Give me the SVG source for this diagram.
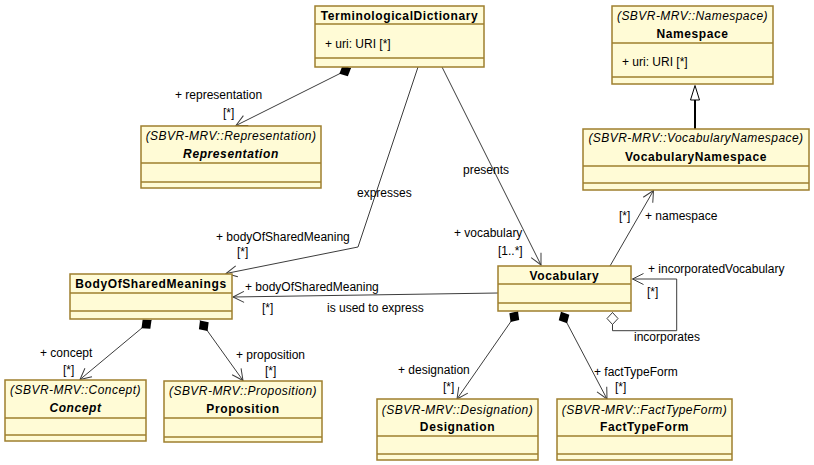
<svg xmlns="http://www.w3.org/2000/svg" width="814" height="465" viewBox="0 0 814 465">
<style>
.box{fill:#FFFBD6;stroke:#9E7F2E;stroke-width:1.5}
.div{stroke:#9E7F2E;stroke-width:1.5}
.name{font-family:"Liberation Sans",Arial,sans-serif;font-size:12px;font-weight:bold;letter-spacing:0.6px;text-anchor:middle;fill:#000}
.abs{font-style:italic}
.st{font-family:"Liberation Sans",Arial,sans-serif;font-size:12px;font-style:italic;letter-spacing:0.45px;text-anchor:middle;fill:#000}
.attr{font-family:"Liberation Sans",Arial,sans-serif;font-size:12px;fill:#000}
.lbl{font-family:"Liberation Sans",Arial,sans-serif;font-size:12px;fill:#000}
.con{fill:none;stroke:#3C3C3C;stroke-width:1}
</style>
<defs>
<marker id="open" markerUnits="userSpaceOnUse" viewBox="-12 -7 14 14" markerWidth="14" markerHeight="14" refX="0" refY="0" orient="auto">
<path d="M-11,-5.5 L0,0 L-11,5.5" fill="none" stroke="#3C3C3C" stroke-width="1"/>
</marker>
<marker id="comp" markerUnits="userSpaceOnUse" viewBox="-1 -8 16 16" markerWidth="16" markerHeight="16" refX="0" refY="0" orient="auto">
<path d="M0,0 L6.5,-6 L13,0 L6.5,6 Z" fill="#000"/>
</marker>
<marker id="agg" markerUnits="userSpaceOnUse" viewBox="-1 -8 16 16" markerWidth="16" markerHeight="16" refX="0" refY="0" orient="auto">
<path d="M0,0 L6,-5.5 L12,0 L6,5.5 Z" fill="#FFF" stroke="#3C3C3C" stroke-width="1"/>
</marker>
</defs>

<g id="connectors">
<path class="con" d="M351,68 L236,125.5" marker-start="url(#comp)" marker-end="url(#open)"/>
<path class="con" d="M418,67 L358,247 L226,273.5" marker-end="url(#open)"/>
<path class="con" d="M442,67 L541,265" marker-end="url(#open)"/>
<path class="con" d="M610,266 L653.5,190.5" marker-end="url(#open)"/>
<path class="con" d="M498,293 L233,297" marker-end="url(#open)"/>
<path class="con" d="M151.5,320 L80,379.5" marker-start="url(#comp)" marker-end="url(#open)"/>
<path class="con" d="M200,320.5 L243,380.5" marker-start="url(#comp)" marker-end="url(#open)"/>
<path class="con" d="M518,311.3 L457,399" marker-start="url(#comp)" marker-end="url(#open)"/>
<path class="con" d="M561,311.7 L607,399" marker-start="url(#comp)" marker-end="url(#open)"/>
<path class="con" d="M612.5,312.5 L612.5,330.7 L676.7,330.7 L676.7,279 L632.5,279" marker-start="url(#agg)" marker-end="url(#open)"/>
<line x1="695" y1="129" x2="695" y2="100" stroke="#000" stroke-width="2"/>
<polygon points="695,85.5 690.5,100 699.5,100" fill="#FFF" stroke="#000" stroke-width="1"/>
</g>

<g id="labels">
<text class="lbl" x="175" y="99">+ representation</text>
<text class="lbl" x="223" y="117">[*]</text>
<text class="lbl" x="357" y="197">expresses</text>
<text class="lbl" x="216" y="241">+ bodyOfSharedMeaning</text>
<text class="lbl" x="237" y="256">[*]</text>
<text class="lbl" x="463" y="174">presents</text>
<text class="lbl" x="454" y="237">+ vocabulary</text>
<text class="lbl" x="498" y="255">[1..*]</text>
<text class="lbl" x="645" y="220">+ namespace</text>
<text class="lbl" x="619" y="220">[*]</text>
<text class="lbl" x="648" y="273">+ incorporatedVocabulary</text>
<text class="lbl" x="647" y="296">[*]</text>
<text class="lbl" x="634" y="341">incorporates</text>
<text class="lbl" x="245" y="291">+ bodyOfSharedMeaning</text>
<text class="lbl" x="262" y="312">[*]</text>
<text class="lbl" x="327" y="312">is used to express</text>
<text class="lbl" x="40" y="357">+ concept</text>
<text class="lbl" x="63" y="374">[*]</text>
<text class="lbl" x="236" y="359">+ proposition</text>
<text class="lbl" x="265" y="375">[*]</text>
<text class="lbl" x="398" y="374">+ designation</text>
<text class="lbl" x="443" y="391">[*]</text>
<text class="lbl" x="594" y="376">+ factTypeForm</text>
<text class="lbl" x="615" y="391">[*]</text>
</g>

<g id="TerminologicalDictionary">
<rect class="box" x="315" y="6" width="169" height="61"/>
<line class="div" x1="315" y1="24" x2="484" y2="24"/>
<line class="div" x1="315" y1="58" x2="484" y2="58"/>
<text class="name" x="399.5" y="19.5">TerminologicalDictionary</text>
<text class="attr" x="325" y="47.5">+ uri: URI [*]</text>
</g>

<g id="Namespace">
<rect class="box" x="612" y="6" width="161" height="78"/>
<line class="div" x1="612" y1="43" x2="773" y2="43"/>
<line class="div" x1="612" y1="77" x2="773" y2="77"/>
<text class="st" x="692.5" y="20">(SBVR-MRV::Namespace)</text>
<text class="name" x="692.5" y="37.5">Namespace</text>
<text class="attr" x="622" y="66">+ uri: URI [*]</text>
</g>

<g id="VocabularyNamespace">
<rect class="box" x="583" y="129" width="226" height="61"/>
<line class="div" x1="583" y1="166" x2="809" y2="166"/>
<line class="div" x1="583" y1="183" x2="809" y2="183"/>
<text class="st" x="696" y="141.5">(SBVR-MRV::VocabularyNamespace)</text>
<text class="name" x="696" y="160.5">VocabularyNamespace</text>
</g>

<g id="Representation">
<rect class="box" x="141" y="126" width="180" height="62"/>
<line class="div" x1="141" y1="163" x2="321" y2="163"/>
<line class="div" x1="141" y1="182" x2="321" y2="182"/>
<text class="st" x="231" y="140">(SBVR-MRV::Representation)</text>
<text class="name abs" x="231" y="157.5">Representation</text>
</g>

<g id="BodyOfSharedMeanings">
<rect class="box" x="70" y="274" width="162" height="45"/>
<line class="div" x1="70" y1="293" x2="232" y2="293"/>
<line class="div" x1="70" y1="311" x2="232" y2="311"/>
<text class="name" x="151" y="287.5">BodyOfSharedMeanings</text>
</g>

<g id="Concept">
<rect class="box" x="5" y="380" width="141" height="61"/>
<line class="div" x1="5" y1="418" x2="146" y2="418"/>
<line class="div" x1="5" y1="435" x2="146" y2="435"/>
<text class="st" x="75.5" y="394">(SBVR-MRV::Concept)</text>
<text class="name abs" x="75.5" y="412">Concept</text>
</g>

<g id="Proposition">
<rect class="box" x="164" y="381" width="158" height="61"/>
<line class="div" x1="164" y1="418" x2="322" y2="418"/>
<line class="div" x1="164" y1="437" x2="322" y2="437"/>
<text class="st" x="243" y="395">(SBVR-MRV::Proposition)</text>
<text class="name" x="243" y="413">Proposition</text>
</g>

<g id="Vocabulary">
<rect class="box" x="498" y="266" width="133" height="45"/>
<line class="div" x1="498" y1="284" x2="631" y2="284"/>
<line class="div" x1="498" y1="303" x2="631" y2="303"/>
<text class="name" x="564.5" y="280">Vocabulary</text>
</g>

<g id="Designation">
<rect class="box" x="377" y="399" width="161" height="61"/>
<line class="div" x1="377" y1="436" x2="538" y2="436"/>
<line class="div" x1="377" y1="454" x2="538" y2="454"/>
<text class="st" x="457.5" y="413.5">(SBVR-MRV::Designation)</text>
<text class="name" x="457.5" y="431">Designation</text>
</g>

<g id="FactTypeForm">
<rect class="box" x="557" y="399" width="175" height="61"/>
<line class="div" x1="557" y1="436" x2="732" y2="436"/>
<line class="div" x1="557" y1="454" x2="732" y2="454"/>
<text class="st" x="644.5" y="413.5">(SBVR-MRV::FactTypeForm)</text>
<text class="name" x="644.5" y="431">FactTypeForm</text>
</g>
</svg>
